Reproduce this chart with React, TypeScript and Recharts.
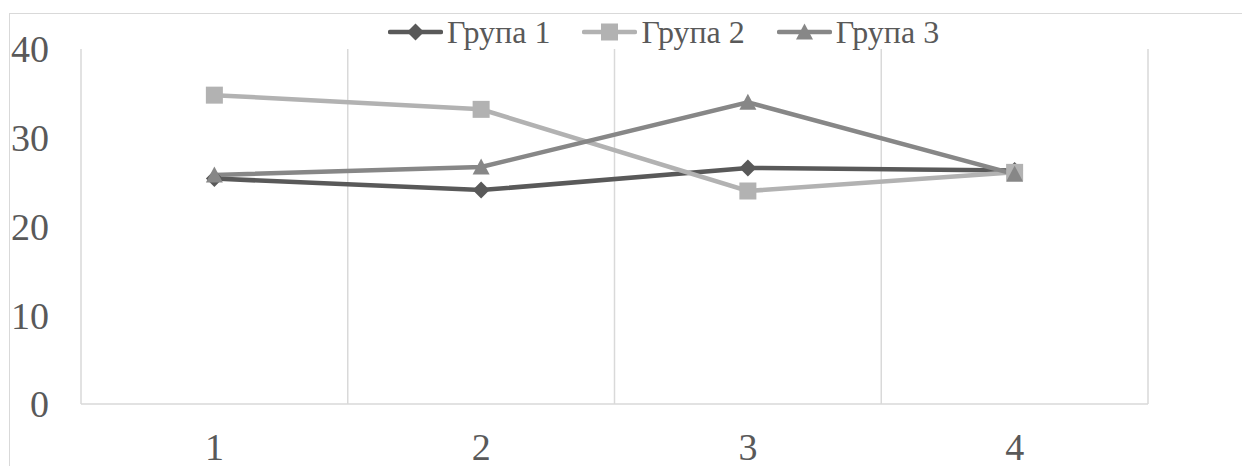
import { LineChart, Line, XAxis, YAxis, CartesianGrid } from 'recharts'

const categories = ['1', '2', '3', '4']
const group1 = [25.4, 24.1, 26.6, 26.3]
const group2 = [34.8, 33.2, 24.0, 26.1]
const group3 = [25.8, 26.7, 34.0, 25.9]
const yTicks = [0, 10, 20, 30, 40]

const seriesNames = ['Група 1', 'Група 2', 'Група 3']
const seriesColors = ['#595959', '#b2b2b2', '#878787']
const seriesShapes = ['diamond', 'square', 'triangle']

const data = categories.map((c, i) => ({
  name: c,
  g1: group1[i],
  g2: group2[i],
  g3: group3[i],
}))

const FONT = 'Liberation Serif, Tinos, Times New Roman, DejaVu Serif, serif'
const W = 1242
const H = 466

function Marker({ shape, color, cx, cy }: { shape: string; color: string; cx: number; cy: number }) {
  const r = 8.5
  if (shape === 'diamond') {
    return <path d={`M${cx},${cy - r} L${cx + r},${cy} L${cx},${cy + r} L${cx - r},${cy} Z`} fill={color} />
  }
  if (shape === 'square') {
    return <rect x={cx - r} y={cy - r} width={r * 2} height={r * 2} fill={color} />
  }
  return <path d={`M${cx},${cy - r} L${cx + r},${cy + r - 1} L${cx - r},${cy + r - 1} Z`} fill={color} />
}

const makeDot = (shape: string, color: string) => (props: any) => {
  const { cx, cy, index } = props
  if (cx == null || cy == null) return <g key={`${shape}-${index}`} />
  return <Marker key={`${shape}-${index}`} shape={shape} color={color} cx={cx} cy={cy} />
}

function LegendBox() {
  return (
    <div
      style={{
        position: 'absolute',
        left: 388,
        top: 14,
        display: 'flex',
        alignItems: 'center',
        fontFamily: FONT,
        fontSize: 32,
        color: '#595959',
        lineHeight: '36px',
        whiteSpace: 'nowrap',
      }}
    >
      {seriesNames.map((n, i) => (
        <div key={n} style={{ display: 'flex', alignItems: 'center', marginRight: i < 2 ? 32 : 0 }}>
          <svg width={55} height={20} style={{ marginRight: 4 }}>
            <line x1={2} y1={10} x2={53} y2={10} stroke={seriesColors[i]} strokeWidth={4.5} strokeLinecap="round" />
            <Marker shape={seriesShapes[i]} color={seriesColors[i]} cx={27.5} cy={10} />
          </svg>
          <span>{n}</span>
        </div>
      ))}
    </div>
  )
}

export default function App() {
  return (
    <div style={{ position: 'absolute', left: 0, top: 0, width: W, height: H, overflow: 'hidden', background: '#fff' }}>
      <div
        style={{
          position: 'absolute',
          left: 9,
          top: 13,
          width: W + 20,
          height: H + 20,
          border: '1.5px solid #d9d9d9',
          boxSizing: 'border-box',
        }}
      />
      <div style={{ position: 'absolute', left: 0, top: 0 }}>
        <LineChart width={W} height={H} data={data} margin={{ top: 49, right: 94, bottom: 0, left: 8 }}>
          <CartesianGrid
            horizontal={false}
            stroke="#d9d9d9"
            strokeWidth={1.5}
            verticalCoordinatesGenerator={({ offset }: any) =>
              [0, 1, 2, 3, 4].map((i) => offset.left + (i * offset.width) / categories.length)
            }
          />
          <XAxis
            dataKey="name"
            scale="band"
            height={62}
            axisLine={{ stroke: '#d9d9d9', strokeWidth: 1.5 }}
            tickLine={false}
            tickSize={0}
            tickMargin={29}
            tick={{ fontFamily: FONT, fontSize: 38, fill: '#595959' }}
          />
          <YAxis
            domain={[0, 40]}
            ticks={yTicks}
            width={73}
            axisLine={false}
            tickLine={false}
            tickSize={0}
            tickMargin={32}
            tick={{ fontFamily: FONT, fontSize: 38, fill: '#595959' }}
          />
          <Line
            dataKey="g1"
            stroke={seriesColors[0]}
            strokeWidth={4.5}
            dot={makeDot('diamond', seriesColors[0])}
            activeDot={false}
            isAnimationActive={false}
          />
          <Line
            dataKey="g2"
            stroke={seriesColors[1]}
            strokeWidth={4.5}
            dot={makeDot('square', seriesColors[1])}
            activeDot={false}
            isAnimationActive={false}
          />
          <Line
            dataKey="g3"
            stroke={seriesColors[2]}
            strokeWidth={4.5}
            dot={makeDot('triangle', seriesColors[2])}
            activeDot={false}
            isAnimationActive={false}
          />
        </LineChart>
      </div>
      <LegendBox />
    </div>
  )
}
